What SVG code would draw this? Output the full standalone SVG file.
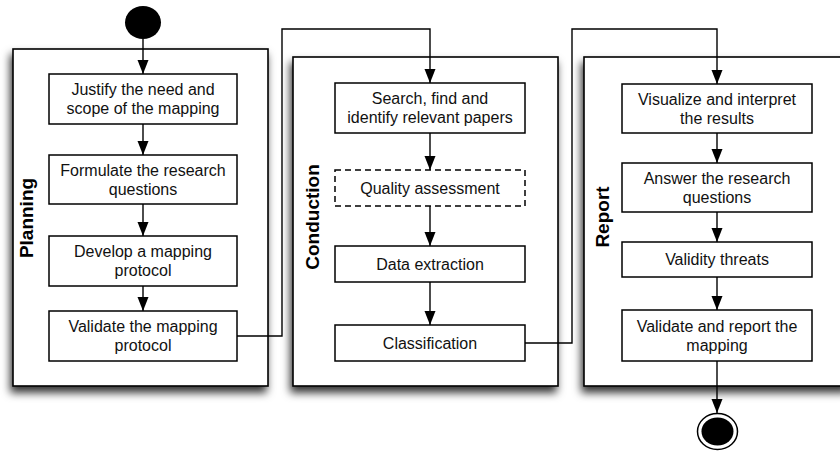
<svg xmlns="http://www.w3.org/2000/svg" width="840" height="451" viewBox="0 0 840 451">
<style>
.frame{fill:#fff;stroke:#000;stroke-width:1.6;filter:url(#shadow)}
.box{fill:#fff;stroke:#000;stroke-width:1.5}
.dashed{stroke-dasharray:6 4}
.t{font-family:"Liberation Sans",Arial,sans-serif;font-size:16px;fill:#111;text-anchor:middle}
.lbl{font-family:"Liberation Sans",Arial,sans-serif;font-size:19px;font-weight:bold;fill:#000;text-anchor:middle}
.c{fill:none;stroke:#000;stroke-width:1.4;marker-end:url(#arr)}
</style>
<defs>
<filter id="shadow" x="-10%" y="-10%" width="120%" height="125%">
<feDropShadow dx="-2" dy="6" stdDeviation="4.5" flood-color="#000" flood-opacity="0.8"/>
</filter>
<marker id="arr" markerUnits="userSpaceOnUse" markerWidth="15" markerHeight="12" refX="14" refY="6" orient="auto">
<path d="M0,0.5 L14,6 L0,11.5 z" fill="#000"/>
</marker>
</defs>
<rect width="840" height="451" fill="#fff"/>
<g id="planning">
<rect class="frame" x="13" y="49" width="255" height="337"/>
<text class="lbl" transform="translate(33,218) rotate(-90)">Planning</text>
</g>
<g id="conduction">
<rect class="frame" x="293" y="57" width="265" height="329"/>
<text class="lbl" transform="translate(319,217) rotate(-90)">Conduction</text>
</g>
<g id="report">
<rect class="frame" x="584" y="57" width="265" height="329"/>
<text class="lbl" transform="translate(609,217) rotate(-90)">Report</text>
</g>
<g id="connectors">
<path class="c" d="M143,39 V74"/>
<path class="c" d="M143,124 V155"/>
<path class="c" d="M143,204 V236"/>
<path class="c" d="M143,286 V311"/>
<path class="c" d="M237,336 H282 V29 H430 V83"/>
<path class="c" d="M430,133 V170"/>
<path class="c" d="M430,206 V246"/>
<path class="c" d="M430,282 V325"/>
<path class="c" d="M525,343 H572 V29 H717 V84"/>
<path class="c" d="M717,133 V163"/>
<path class="c" d="M717,212 V242"/>
<path class="c" d="M717,277 V310"/>
<path class="c" d="M717,361 V413"/>
</g>
<g id="start">
<ellipse cx="143" cy="22.5" rx="18" ry="16.5" fill="#000"/>
</g>
<g id="justify">
<rect class="box" x="49" y="74" width="188" height="50"/>
<text class="t" x="143" y="95">Justify the need and</text>
<text class="t" x="143" y="114">scope of the mapping</text>
</g>
<g id="formulate">
<rect class="box" x="49" y="155" width="188" height="49"/>
<text class="t" x="143" y="176">Formulate the research</text>
<text class="t" x="143" y="195">questions</text>
</g>
<g id="develop">
<rect class="box" x="49" y="236" width="188" height="50"/>
<text class="t" x="143" y="257">Develop a mapping</text>
<text class="t" x="143" y="276">protocol</text>
</g>
<g id="validate-protocol">
<rect class="box" x="49" y="311" width="188" height="50"/>
<text class="t" x="143" y="332">Validate the mapping</text>
<text class="t" x="143" y="351">protocol</text>
</g>
<g id="search">
<rect class="box" x="335" y="83" width="190" height="50"/>
<text class="t" x="430" y="104">Search, find and</text>
<text class="t" x="430" y="123">identify relevant papers</text>
</g>
<g id="quality">
<rect class="box dashed" x="335" y="170" width="190" height="36"/>
<text class="t" x="430" y="194">Quality assessment</text>
</g>
<g id="extraction">
<rect class="box" x="335" y="246" width="190" height="36"/>
<text class="t" x="430" y="270">Data extraction</text>
</g>
<g id="classification">
<rect class="box" x="335" y="325" width="190" height="36"/>
<text class="t" x="430" y="349">Classification</text>
</g>
<g id="visualize">
<rect class="box" x="622" y="84" width="190" height="49"/>
<text class="t" x="717" y="105">Visualize and interpret</text>
<text class="t" x="717" y="124">the results</text>
</g>
<g id="answer">
<rect class="box" x="622" y="163" width="190" height="49"/>
<text class="t" x="717" y="184">Answer the research</text>
<text class="t" x="717" y="203">questions</text>
</g>
<g id="validity">
<rect class="box" x="622" y="242" width="190" height="35"/>
<text class="t" x="717" y="265">Validity threats</text>
</g>
<g id="validate-report">
<rect class="box" x="622" y="310" width="190" height="51"/>
<text class="t" x="717" y="332">Validate and report the</text>
<text class="t" x="717" y="351">mapping</text>
</g>
<g id="end">
<ellipse cx="717.5" cy="431.5" rx="20" ry="18" fill="#fff" stroke="#000" stroke-width="1.5"/>
<ellipse cx="717.5" cy="431.5" rx="16" ry="14" fill="#000"/>
</g>
</svg>
